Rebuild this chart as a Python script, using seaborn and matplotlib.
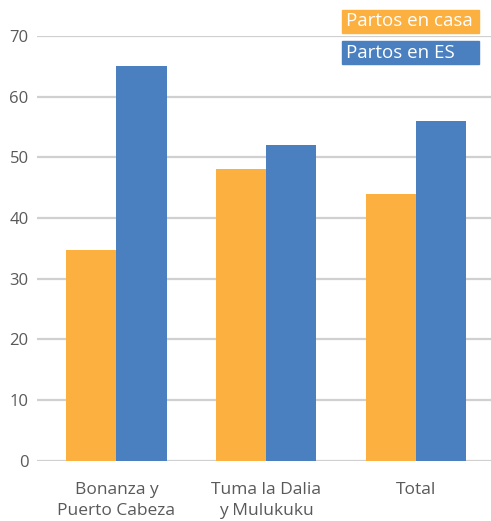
import pandas as pd
import matplotlib.pyplot as plt
import matplotlib.patches as mpatches
import seaborn as sns

categories = ["Bonanza y\nPuerto Cabeza", "Tuma la Dalia\ny Mulukuku", "Total"]
casa = [34.7, 48, 44]
es = [65, 52, 56]
series = ["Partos en casa", "Partos en ES"]
colors = ["#FBB040", "#4A7FC0"]

df = pd.DataFrame({
    "cat": categories * 2,
    "val": casa + es,
    "serie": [series[0]] * 3 + [series[1]] * 3,
})

sns.set_theme(style="white")
plt.rcParams["font.family"] = ["Open Sans", "DejaVu Sans"]

fig = plt.figure(figsize=(4.91, 5.21), dpi=100)
ax = fig.add_axes([37 / 491, 60.3 / 521, 1 - 37 / 491, (460.7 - 36) / 521])

sns.barplot(data=df, x="cat", y="val", hue="serie", palette=colors,
            width=0.67, gap=0, saturation=1, linewidth=0, ax=ax,
            legend=False, zorder=3)

ax.set_ylim(0, 70)
ax.set_xlim(-0.53, 2.5)
ax.set_yticks(range(0, 71, 10))
ax.grid(axis="y", color="#D0D0D0", linewidth=1.6, zorder=0)
ax.set_axisbelow(True)
for s in ax.spines.values():
    s.set_visible(False)
ax.set_xlabel("")
ax.set_ylabel("")
ax.tick_params(axis="y", length=0, pad=6, labelsize=12, labelcolor="#595959")
ax.tick_params(axis="x", length=0, pad=15, labelsize=12.5, labelcolor="#595959")
for lab in ax.get_yticklabels():
    lab.set_horizontalalignment("right")
for lab in ax.get_xticklabels():
    lab.set_linespacing(1.45)

# legend as colored boxes with white text
for i, (name, col) in enumerate(zip(series, colors)):
    top = 10 + i * 31
    y0 = (521 - top - 23) / 521
    fig.patches.append(mpatches.Rectangle((342 / 491, y0), 137 / 491, 23 / 521,
                                          transform=fig.transFigure, color=col,
                                          zorder=1))
    fig.text(346 / 491, y0 + 11.5 / 521, name, color="white", fontsize=13.5,
             va="center", ha="left", zorder=5)

fig.savefig("out.png", dpi=100)
